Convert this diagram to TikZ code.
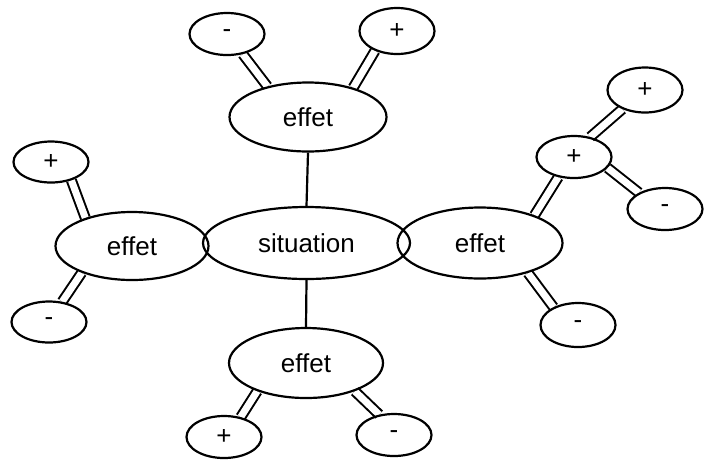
\documentclass[tikz,border=0pt]{standalone}
\usepackage{fontspec}
\setmainfont{Liberation Sans}
\usetikzlibrary{shapes.geometric,backgrounds}
\begin{document}
\begin{tikzpicture}[x=1pt,y=-1pt,
  ell/.style={ellipse,draw,line width=2.2pt,inner sep=0pt,font=\fontsize{26}{30}\selectfont},
  sm/.style={ell,minimum width=75pt,minimum height=42pt},
  dbl/.style={draw,double,double distance=7pt,line width=2pt},
  single/.style={draw,line width=2.2pt}]
\useasboundingbox (0,0) rectangle (711,459);
% main ellipses
\node[ell,minimum width=207pt,minimum height=72pt] (sit) at (306.5,243) {situation};
\node[ell,minimum width=157pt,minimum height=69pt] (et) at (308,117) {effet};
\node[ell,minimum width=153pt,minimum height=68pt] (el) at (132,246) {effet};
\node[ell,minimum width=165pt,minimum height=71pt] (er) at (480,243) {effet};
\node[ell,minimum width=154pt,minimum height=70pt] (eb) at (306,363) {effet};
% small ellipses
\node[sm] (tm) at (227,34) {-};
\node[sm,minimum height=46pt] (tp) at (397,31) {+};
\node[sm,minimum height=45pt] (fp) at (645,90) {+};
\node[sm] (mp) at (574,157) {+};
\node[sm] (rm2) at (665,209) {-};
\node[sm,minimum height=44pt] (rm) at (578,325) {-};
\node[sm,minimum height=41pt] (lp) at (51,162) {+};
\node[sm,minimum height=41pt] (lm) at (49,322) {-};
\node[sm] (bp) at (224,437) {+};
\node[sm] (bm) at (394,435) {-};
\begin{pgfonlayer}{background}
\path[single] (et.south) -- (sit.north);
\path[single] (sit.south) -- (eb.north);
\path[dbl] (tm.-52) -- (et.143);
\path[dbl] (tp.222) -- (et.33);
\path[dbl] (fp.220) -- (mp.51);
\path[dbl] (mp.-18) -- (rm2.148);
\path[dbl] (mp.232) -- (er.27);
\path[dbl] (er.-32) -- (rm.144);
\path[dbl] (lp.-42) -- (el.149);
\path[dbl] (el.208) -- (lm.57);
\path[dbl] (eb.210) -- (bp.50);
\path[dbl] (eb.-30) -- (bm.126);
\end{pgfonlayer}
\end{tikzpicture}
\end{document}
